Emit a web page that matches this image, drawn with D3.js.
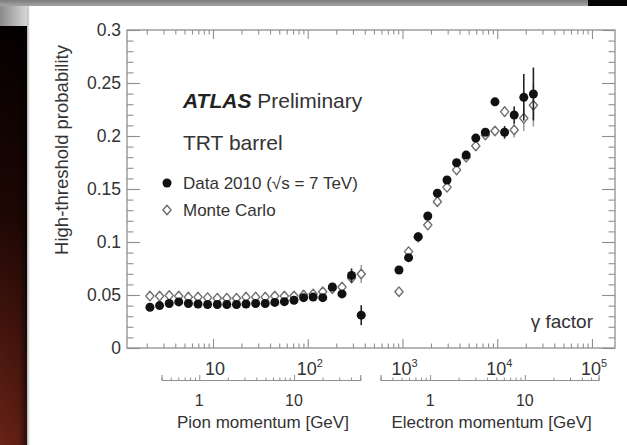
<!DOCTYPE html>
<html>
<head>
<meta charset="utf-8">
<script src="https://cdn.jsdelivr.net/npm/d3@7"></script>
<style>
  html, body { margin: 0; padding: 0; background: #fff; }
  svg { display: block; }
  text { font-family: "Liberation Sans", Arial, Helvetica, sans-serif; }
</style>
</head>
<body>
<svg id="chart" width="627" height="445"></svg>
<script>
// Lorentz factor of each bin (pion side, then electron side)
const pionGamma = [2.16, 2.73, 3.45, 4.35, 5.50, 6.95, 8.77, 11.1, 14.0, 17.7, 22.3, 28.2,
                   35.6, 44.9, 56.7, 71.6, 90.4, 114, 144, 182, 230, 290, 367];
const elecGamma = [918, 1160, 1465, 1849, 2335, 2950, 3725, 4700, 5940, 7500, 9470,
                   11960, 15100, 19070, 24080];

// High-threshold probability, data 2010
const pionData = [0.0384, 0.040, 0.042, 0.0435, 0.042, 0.0415, 0.041, 0.041, 0.041, 0.041,
                  0.0415, 0.042, 0.042, 0.043, 0.0437, 0.045, 0.0475, 0.048, 0.0475, 0.0575,
                  0.051, 0.0685, 0.031];
const pionDataErr = [0, 0, 0, 0, 0, 0, 0, 0, 0, 0, 0, 0, 0, 0, 0, 0, 0, 0, 0, 0.001,
                     0.001, 0.0066, 0.0094];
const elecData = [0.0736, 0.0852, 0.105, 0.1245, 0.146, 0.1585, 0.1748, 0.182, 0.198,
                  0.2035, 0.2322, 0.2035, 0.2198, 0.2365, 0.2396];
const elecDataErr = [0, 0, 0, 0, 0, 0, 0, 0, 0, 0, 0.002, 0.006, 0.008, 0.022, 0.025];

// High-threshold probability, Monte Carlo
const pionMC = [0.049, 0.049, 0.0495, 0.049, 0.048, 0.048, 0.0475, 0.047, 0.047, 0.047,
                0.048, 0.048, 0.048, 0.049, 0.049, 0.049, 0.050, 0.051, 0.053, 0.056,
                0.0575, 0.066, 0.0698];
const pionMCErr = [0, 0, 0, 0, 0, 0, 0, 0, 0, 0, 0, 0, 0, 0, 0, 0, 0, 0, 0, 0, 0, 0.002, 0.0085];
const elecMC = [0.0531, 0.0909, 0.1045, 0.116, 0.138, 0.1516, 0.168, 0.180, 0.1906,
                0.201, 0.2047, 0.223, 0.2057, 0.2167, 0.229];
const elecMCErr = [0, 0, 0, 0, 0, 0, 0, 0, 0, 0, 0.002, 0.005, 0.007, 0.012, 0.02];

// Axis ticks and labels
const yTicks = [0, 0.05, 0.1, 0.15, 0.2, 0.25, 0.3];
const yTickLabels = ["0", "0.05", "0.1", "0.15", "0.2", "0.25", "0.3"];
const gammaDecades = [10, 100, 1000, 10000, 100000];
const gammaExponents = [1, 2, 3, 4, 5];
const pionMomentumLabels = [1, 10];
const elecMomentumLabels = [1, 10];

const PION_MASS = 0.13957;    // GeV
const ELECTRON_MASS = 0.000511; // GeV

const svg = d3.select("#chart");

// ---------- slide background ----------
const defs = svg.append("defs");
const stripGrad = defs.append("linearGradient").attr("id", "strip")
  .attr("x1", 0).attr("y1", 0).attr("x2", 0).attr("y2", 1);
stripGrad.append("stop").attr("offset", "0%").attr("stop-color", "#040000");
stripGrad.append("stop").attr("offset", "45%").attr("stop-color", "#1e0704");
stripGrad.append("stop").attr("offset", "100%").attr("stop-color", "#6a2216");
const stripShade = defs.append("linearGradient").attr("id", "stripShade")
  .attr("x1", 0).attr("y1", 0).attr("x2", 1).attr("y2", 0);
stripShade.append("stop").attr("offset", "0%").attr("stop-color", "#000").attr("stop-opacity", 0);
stripShade.append("stop").attr("offset", "70%").attr("stop-color", "#000").attr("stop-opacity", 0.1);
stripShade.append("stop").attr("offset", "100%").attr("stop-color", "#000").attr("stop-opacity", 0.6);
const cornerGrad = defs.append("linearGradient").attr("id", "corner")
  .attr("x1", 0).attr("y1", 0).attr("x2", 1).attr("y2", 0);
cornerGrad.append("stop").attr("offset", "0%").attr("stop-color", "#8a8a8a");
cornerGrad.append("stop").attr("offset", "100%").attr("stop-color", "#d6d6d6");
const bandGrad = defs.append("linearGradient").attr("id", "band")
  .attr("x1", 0).attr("y1", 0).attr("x2", 0).attr("y2", 1);
bandGrad.append("stop").attr("offset", "0%").attr("stop-color", "#7c7c7c");
bandGrad.append("stop").attr("offset", "100%").attr("stop-color", "#a4a4a4");
const edgeGrad = defs.append("linearGradient").attr("id", "edge")
  .attr("x1", 0).attr("y1", 0).attr("x2", 1).attr("y2", 0);
edgeGrad.append("stop").attr("offset", "0%").attr("stop-color", "#b0b0b0");
edgeGrad.append("stop").attr("offset", "100%").attr("stop-color", "#fff");

svg.append("rect").attr("width", 627).attr("height", 445).attr("fill", "#fff");
svg.append("rect").attr("x", 0).attr("y", 26).attr("width", 27).attr("height", 419).attr("fill", "url(#strip)");
svg.append("rect").attr("x", 0).attr("y", 26).attr("width", 27).attr("height", 419).attr("fill", "url(#stripShade)");
svg.append("rect").attr("x", 0).attr("y", 0).attr("width", 27).attr("height", 26).attr("fill", "url(#corner)");
svg.append("rect").attr("x", 0).attr("y", 0).attr("width", 588).attr("height", 6).attr("fill", "url(#band)");
svg.append("rect").attr("x", 588).attr("y", 0).attr("width", 39).attr("height", 6).attr("fill", "#050505");
svg.append("rect").attr("x", 27).attr("y", 6).attr("width", 3).attr("height", 439).attr("fill", "url(#edge)");

// ---------- scales ----------
const plot = { left: 127, right: 615, top: 30, bottom: 348 };
const x = d3.scaleLog().domain([1.237, 1.75e5]).range([plot.left, plot.right]);
const y = d3.scaleLinear().domain([0, 0.3]).range([plot.bottom, plot.top]);

const frameColor = "#8f8f8f";
const textColor = "#333";

// ---------- frame and ticks ----------
const minorGamma = [];
for (let dec = 1; dec <= 1e5; dec *= 10) {
  for (let k = 1; k <= 9; k++) {
    const v = dec * k;
    if (v >= x.domain()[0] && v <= x.domain()[1] && k !== 1) minorGamma.push(v);
  }
}
const minorY = d3.range(0, 31).map(i => i / 100);

function styleAxis(g) {
  g.select(".domain").remove();
  g.selectAll("line").attr("stroke", frameColor).attr("stroke-width", 1.1);
  g.selectAll("text").remove();
}

svg.append("g").attr("transform", `translate(0,${plot.bottom})`)
  .call(d3.axisBottom(x).tickValues(gammaDecades).tickSize(-9).tickFormat(""))
  .call(styleAxis);
svg.append("g").attr("transform", `translate(0,${plot.bottom})`)
  .call(d3.axisBottom(x).tickValues(minorGamma).tickSize(-4.5).tickFormat(""))
  .call(styleAxis);
svg.append("g").attr("transform", `translate(0,${plot.top})`)
  .call(d3.axisTop(x).tickValues(gammaDecades).tickSize(-9).tickFormat(""))
  .call(styleAxis);
svg.append("g").attr("transform", `translate(0,${plot.top})`)
  .call(d3.axisTop(x).tickValues(minorGamma).tickSize(-4.5).tickFormat(""))
  .call(styleAxis);
svg.append("g").attr("transform", `translate(${plot.left},0)`)
  .call(d3.axisLeft(y).tickValues(yTicks).tickSize(-13).tickFormat(""))
  .call(styleAxis);
svg.append("g").attr("transform", `translate(${plot.left},0)`)
  .call(d3.axisLeft(y).tickValues(minorY).tickSize(-6.5).tickFormat(""))
  .call(styleAxis);
svg.append("g").attr("transform", `translate(${plot.right},0)`)
  .call(d3.axisRight(y).tickValues(yTicks).tickSize(-13).tickFormat(""))
  .call(styleAxis);
svg.append("g").attr("transform", `translate(${plot.right},0)`)
  .call(d3.axisRight(y).tickValues(minorY).tickSize(-6.5).tickFormat(""))
  .call(styleAxis);

svg.append("rect")
  .attr("x", plot.left).attr("y", plot.top)
  .attr("width", plot.right - plot.left).attr("height", plot.bottom - plot.top)
  .attr("fill", "none").attr("stroke", frameColor).attr("stroke-width", 1.3);

// ---------- y tick labels & title ----------
svg.append("g").selectAll("text").data(yTicks).join("text")
  .attr("x", 121).attr("y", d => y(d) + 6)
  .attr("text-anchor", "end").attr("font-size", 17.5).attr("fill", textColor)
  .text((d, i) => yTickLabels[i]);

svg.append("text")
  .attr("transform", `translate(68,${(28 + 272) / 2}) rotate(-90)`)
  .attr("text-anchor", "middle").attr("font-size", 18.5).attr("fill", textColor)
  .text("High-threshold probability");

// ---------- gamma tick labels ----------
const gLab = svg.append("g").selectAll("text").data(gammaDecades).join("text")
  .attr("x", d => x(d) + 2).attr("y", 375)
  .attr("text-anchor", "middle").attr("font-size", 18).attr("fill", textColor);
gLab.append("tspan").text("10");
gLab.filter((d, i) => gammaExponents[i] > 1).append("tspan")
  .attr("dy", -8).attr("font-size", 11).text((d) => String(Math.round(Math.log10(d))));

// ---------- momentum axes ----------
function momentumAxis(mass, pMin, pMax, labels, title) {
  const s = d3.scaleLog().domain([pMin, pMax])
    .range([x(pMin / mass), x(pMax / mass)]);
  const major = [], minor = [];
  for (let dec = 0.1; dec <= 100; dec *= 10) {
    for (let k = 1; k <= 9; k++) {
      const v = +(dec * k).toPrecision(3);
      if (v < pMin - 1e-9 || v > pMax + 1e-9) continue;
      (k === 1 ? major : minor).push(v);
    }
  }
  const g = svg.append("g").attr("transform", "translate(0,380)");
  g.call(d3.axisBottom(s).tickValues(major).tickSize(-5).tickFormat(""));
  g.select(".domain").attr("stroke", frameColor).attr("stroke-width", 1.1);
  g.selectAll("line").attr("stroke", frameColor);
  g.selectAll("text").remove();
  const gm = svg.append("g").attr("transform", "translate(0,380)")
    .call(d3.axisBottom(s).tickValues(minor).tickSize(-2.5).tickFormat(""));
  gm.select(".domain").remove();
  gm.selectAll("line").attr("stroke", frameColor);
  gm.selectAll("text").remove();

  svg.append("g").selectAll("text").data(labels).join("text")
    .attr("x", d => s(d)).attr("y", 406)
    .attr("text-anchor", "middle").attr("font-size", 16).attr("fill", textColor)
    .text(d => d);
  svg.append("text")
    .attr("x", (s.range()[0] + s.range()[1]) / 2 + 2).attr("y", 428)
    .attr("text-anchor", "middle").attr("font-size", 17).attr("fill", textColor)
    .text(title);
}
momentumAxis(PION_MASS, 0.4, 50, pionMomentumLabels, "Pion momentum [GeV]");
momentumAxis(ELECTRON_MASS, 0.3, 60, elecMomentumLabels, "Electron momentum [GeV]");

// ---------- markers ----------
// Open diamond marker, slightly taller than wide
const openDiamond = {
  draw(ctx, size) {
    const h = Math.sqrt(size) * 0.62, w = h * 0.85;
    ctx.moveTo(0, -h); ctx.lineTo(w, 0); ctx.lineTo(0, h); ctx.lineTo(-w, 0); ctx.closePath();
  }
};
const diamond = d3.symbol().type(openDiamond).size(60);
function rows(gammas, vals, errs) {
  return gammas.map((gmm, i) => ({ g: gmm, v: vals[i], e: errs[i] }));
}
const mcRows = rows(pionGamma, pionMC, pionMCErr).concat(rows(elecGamma, elecMC, elecMCErr));
const dataRows = rows(pionGamma, pionData, pionDataErr).concat(rows(elecGamma, elecData, elecDataErr));

const mcG = svg.append("g");
mcG.selectAll("line").data(mcRows.filter(d => d.e > 0)).join("line")
  .attr("x1", d => x(d.g)).attr("x2", d => x(d.g))
  .attr("y1", d => y(d.v - d.e)).attr("y2", d => y(d.v + d.e))
  .attr("stroke", "#9a9a9a").attr("stroke-width", 1.5);
mcG.selectAll("path").data(mcRows).join("path")
  .attr("d", diamond)
  .attr("transform", d => `translate(${x(d.g)},${y(d.v)})`)
  .attr("fill", "#fff").attr("stroke", "#707070").attr("stroke-width", 1.4)
  .attr("stroke-linejoin", "round");

const dG = svg.append("g");
dG.selectAll("line").data(dataRows.filter(d => d.e > 0)).join("line")
  .attr("x1", d => x(d.g)).attr("x2", d => x(d.g))
  .attr("y1", d => y(d.v - d.e)).attr("y2", d => y(d.v + d.e))
  .attr("stroke", "#222").attr("stroke-width", 1.6);
dG.selectAll("circle").data(dataRows).join("circle")
  .attr("cx", d => x(d.g)).attr("cy", d => y(d.v)).attr("r", 4.5)
  .attr("fill", "#111");

// ---------- labels & legend ----------
const atlas = svg.append("text").attr("x", 183).attr("y", 108)
  .attr("font-size", 21).attr("fill", "#222");
atlas.append("tspan").attr("font-weight", "bold").attr("font-style", "italic").text("ATLAS");
atlas.append("tspan").attr("fill", textColor).text(" Preliminary");

svg.append("text").attr("x", 183).attr("y", 150)
  .attr("font-size", 21).attr("fill", textColor).text("TRT barrel");

svg.append("circle").attr("cx", 167).attr("cy", 183).attr("r", 4.5).attr("fill", "#111");
svg.append("text").attr("x", 183).attr("y", 189)
  .attr("font-size", 17).attr("fill", textColor).text("Data 2010 (\u221As = 7 TeV)");

svg.append("path").attr("d", diamond).attr("transform", "translate(167,210)")
  .attr("fill", "#fff").attr("stroke", "#707070").attr("stroke-width", 1.4)
  .attr("stroke-linejoin", "round");
svg.append("text").attr("x", 183).attr("y", 216)
  .attr("font-size", 17).attr("fill", textColor).text("Monte Carlo");

svg.append("text").attr("x", 593).attr("y", 328).attr("text-anchor", "end")
  .attr("font-size", 19).attr("fill", textColor).text("\u03B3 factor");
</script>
</body>
</html>
